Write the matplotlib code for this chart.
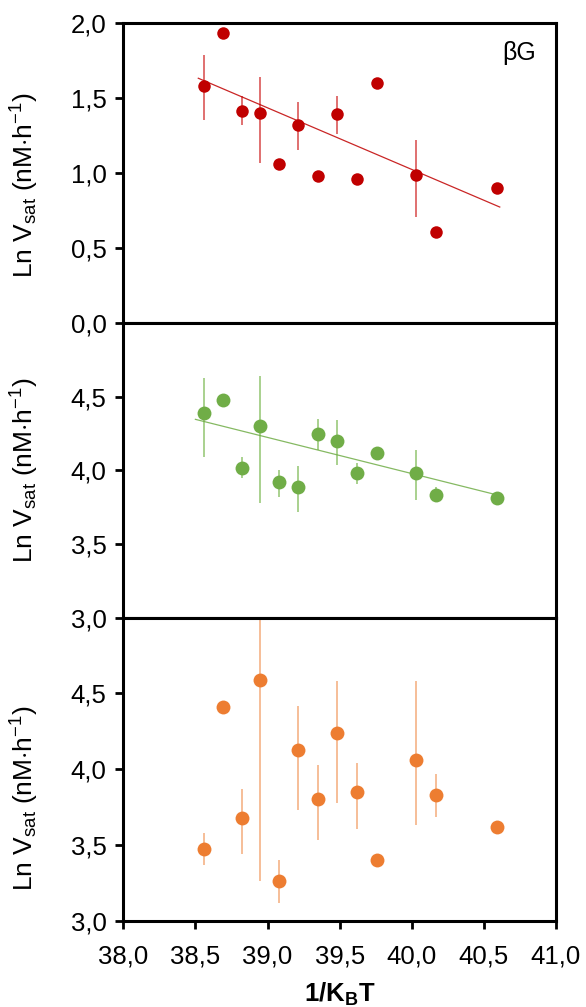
import matplotlib
matplotlib.use('Agg')
import matplotlib.pyplot as plt
from matplotlib.ticker import FuncFormatter, MultipleLocator
import numpy as np

plt.rcParams['font.family'] = ['Liberation Sans', 'DejaVu Sans']
plt.rcParams['mathtext.fontset'] = 'custom'
plt.rcParams['mathtext.rm'] = 'Liberation Sans'
plt.rcParams['mathtext.it'] = 'Liberation Sans:italic'
plt.rcParams['mathtext.bf'] = 'Liberation Sans:bold'

font_size = 18.5

# 1/kBT for each temperature
inv_kt = [38.56, 38.69, 38.82, 38.95, 39.08, 39.21, 39.35,
          39.48, 39.62, 39.76, 40.03, 40.17, 40.59]

# ln Vsat, with lower / upper error bar lengths (0 = no bar)
bg_vals = [1.58, 1.93, 1.41, 1.40, 1.06, 1.32, 0.98,
           1.39, 0.96, 1.60, 0.99, 0.61, 0.90]
bg_lo = [0.23, 0, 0.09, 0.33, 0, 0.165, 0, 0.13, 0, 0, 0.28, 0, 0]
bg_hi = [0.205, 0, 0.10, 0.24, 0, 0.15, 0, 0.12, 0, 0, 0.23, 0, 0]

green_vals = [4.39, 4.48, 4.02, 4.30, 3.92, 3.89, 4.25,
              4.20, 3.98, 4.12, 3.98, 3.83, 3.81]
green_lo = [0.30, 0, 0.07, 0.52, 0.10, 0.175, 0.11, 0.16, 0.07, 0, 0.18, 0, 0]
green_hi = [0.24, 0, 0.07, 0.345, 0.08, 0.14, 0.10, 0.14, 0.07, 0, 0.16, 0.055, 0]

orange_vals = [3.47, 4.41, 3.68, 4.59, 3.26, 4.13, 3.80,
               4.24, 3.85, 3.40, 4.06, 3.83, 3.62]
orange_lo = [0.10, 0, 0.24, 1.33, 0.14, 0.40, 0.27, 0.46, 0.245, 0, 0.43, 0.145, 0]
orange_hi = [0.11, 0, 0.19, 0.50, 0.14, 0.29, 0.23, 0.34, 0.19, 0, 0.52, 0.135, 0]

# linear (Arrhenius) fits: slope, intercept, x range
bg_fit = (-0.41, 17.424, 38.52, 40.61)
green_fit = (-0.2455, 13.799, 38.50, 40.57)

comma_fmt = FuncFormatter(lambda v, pos: ('%.1f' % v).replace('.', ','))


def plot_panel(ax, yvals, lo, hi, color, ecolor, msize, fit=None):
    ax.errorbar(inv_kt, yvals, yerr=[lo, hi], fmt='none', ecolor=ecolor,
                elinewidth=1.4, capsize=0, zorder=2)
    ax.plot(inv_kt, yvals, linestyle='', marker='o', markersize=msize,
            color=color, markeredgewidth=0, zorder=3)
    if fit is not None:
        slope, icpt, x0, x1 = fit
        xs = np.array([x0, x1])
        ax.plot(xs, slope * xs + icpt, color=color, linewidth=0.9,
                alpha=0.85, zorder=2.5)
    ax.set_xlim(38.0, 41.0)
    ax.xaxis.set_major_locator(MultipleLocator(0.5))
    ax.yaxis.set_major_formatter(comma_fmt)
    ax.xaxis.set_major_formatter(comma_fmt)
    for sp in ax.spines.values():
        sp.set_linewidth(2.2)
        sp.set_color('black')
    ax.tick_params(axis='y', direction='out', length=6, width=2,
                   labelsize=font_size, pad=6)
    ax.tick_params(axis='x', direction='out', length=6, width=2,
                   labelsize=font_size, pad=11)
    ax.set_ylabel(r'Ln V$_{\mathrm{sat}}$ (nM$\cdot$h$^{\mathrm{-1}}$)',
                  fontsize=19)


fig = plt.figure(figsize=(5.86, 10.07), dpi=100)
left, width = 0.2104, 0.7384
ax1 = fig.add_axes([left, 0.6789, width, 0.2985])
ax2 = fig.add_axes([left, 0.3866, width, 0.2924])
ax3 = fig.add_axes([left, 0.0857, width, 0.3009])

plot_panel(ax1, bg_vals, bg_lo, bg_hi, '#C00000', '#E07070', 9, bg_fit)
plot_panel(ax2, green_vals, green_lo, green_hi, '#70AD47', '#A9D18E', 10, green_fit)
plot_panel(ax3, orange_vals, orange_lo, orange_hi, '#ED7D31', '#F6BE98', 10)

ax1.set_ylim(0, 2.0)
ax1.set_yticks([0, 0.5, 1.0, 1.5, 2.0])
ax1.text(0.915, 0.9, 'βG', transform=ax1.transAxes, fontsize=18,
         ha='center', va='center')

ax2.set_ylim(3.0, 5.0)
ax2.set_yticks([3.0, 3.5, 4.0, 4.5])
ax3.set_ylim(3.0, 5.0)
ax3.set_yticks([3.0, 3.5, 4.0, 4.5])

for ax in (ax1, ax2):
    ax.tick_params(axis='x', bottom=False, labelbottom=False)

ax1.yaxis.set_label_coords(-0.19, 0.46)
ax2.yaxis.set_label_coords(-0.19, 0.5)
ax3.yaxis.set_label_coords(-0.19, 0.405)

ax3.set_xlabel(r'1/K$_{\mathbf{B}}$T', fontsize=font_size, fontweight='bold',
               labelpad=9)

plt.savefig('out.png', dpi=100)
plt.close()
